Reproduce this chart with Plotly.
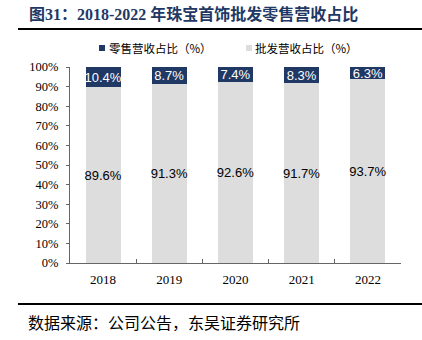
import plotly.graph_objects as go

years = ["2018", "2019", "2020", "2021", "2022"]
retail = [10.4, 8.7, 7.4, 8.3, 6.3]
wholesale = [89.6, 91.3, 92.6, 91.7, 93.7]
yticks = [0, 10, 20, 30, 40, 50, 60, 70, 80, 90, 100]
ytick_text = [f"{v}%" for v in yticks]

NAVY = "#1F3864"
GRAY = "#DDDDDD"
SERIF = "Liberation Serif, Times New Roman, serif"
SANS = "Liberation Sans, Arial, sans-serif"
CJK = "Noto Sans CJK SC"

# plot area in pixels (for paper conversion)
L, R, T, B = 70, 401, 67, 263
W, H = 422, 340
def px(x):
    return (x - L) / (R - L)
def py(y):
    return (B - y) / (B - T)

fig = go.Figure()
fig.add_trace(go.Bar(
    x=years, y=wholesale, name="批发营收占比（%）", marker=dict(color=GRAY, line=dict(width=0)),
    text=[f"{v:.1f}%" for v in wholesale], textposition="inside", insidetextanchor="middle",
    textangle=0, textfont=dict(family=SANS, size=13, color="#000000"), showlegend=False,
))
fig.add_trace(go.Bar(
    x=years, y=retail, name="零售营收占比（%）", marker=dict(color=NAVY, line=dict(width=0)),
    text=[f"{v:.1f}%" for v in retail], textposition="inside", insidetextanchor="middle",
    textangle=0, textfont=dict(family=SANS, size=13, color="#FFFFFF"), showlegend=False,
))

fig.update_layout(
    barmode="stack", bargap=0.47,
    width=W, height=H,
    margin=dict(l=L, r=W - R, t=T, b=H - B),
    paper_bgcolor="white", plot_bgcolor="white",
    uniformtext=dict(minsize=12, mode="show"),
    xaxis=dict(showline=True, linecolor="#666666", linewidth=1, ticks="inside", ticklen=4,
               tickcolor="#666666", tickson="boundaries", showgrid=False,
               tickfont=dict(family=SERIF, size=13, color="#000000"), ticklabelstandoff=4),
    yaxis=dict(range=[0, 100], tickvals=yticks, ticktext=ytick_text, showline=True,
               linecolor="#666666", linewidth=1, ticks="outside", ticklen=3, tickcolor="#666666",
               showgrid=False, zeroline=False,
               tickfont=dict(family=SERIF, size=12.5, color="#000000"), ticklabelstandoff=5),
)

shapes = [
    dict(type="line", xref="paper", yref="paper", x0=px(18), x1=px(422), y0=py(29), y1=py(29),
         line=dict(color="#000000", width=2)),
    dict(type="line", xref="paper", yref="paper", x0=px(18), x1=px(422), y0=py(304), y1=py(304),
         line=dict(color="#000000", width=2)),
    dict(type="rect", xref="paper", yref="paper", x0=px(99), x1=px(105), y0=py(45), y1=py(51),
         fillcolor=NAVY, line=dict(width=0)),
    dict(type="rect", xref="paper", yref="paper", x0=px(246), x1=px(252), y0=py(45), y1=py(51),
         fillcolor=GRAY, line=dict(width=0)),
]
annotations = [
    dict(text="<b>图31：2018-2022 年珠宝首饰批发零售营收占比</b>", xref="paper", yref="paper",
         x=px(27), y=py(14), xanchor="left", yanchor="middle", showarrow=False,
         font=dict(family=f"Liberation Serif, {CJK}", size=16, color=NAVY)),
    dict(text="零售营收占比（%）", xref="paper", yref="paper", x=px(107), y=py(48),
         xanchor="left", yanchor="middle", showarrow=False,
         font=dict(family=CJK, size=11.5, color="#000000")),
    dict(text="批发营收占比（%）", xref="paper", yref="paper", x=px(253), y=py(48),
         xanchor="left", yanchor="middle", showarrow=False,
         font=dict(family=CJK, size=11.5, color="#000000")),
    dict(text="数据来源：公司公告，东吴证券研究所", xref="paper", yref="paper", x=px(26), y=py(322),
         xanchor="left", yanchor="middle", showarrow=False,
         font=dict(family=CJK, size=16, color="#000000")),
]
fig.update_layout(shapes=shapes, annotations=annotations)

fig.write_html("out.html")
